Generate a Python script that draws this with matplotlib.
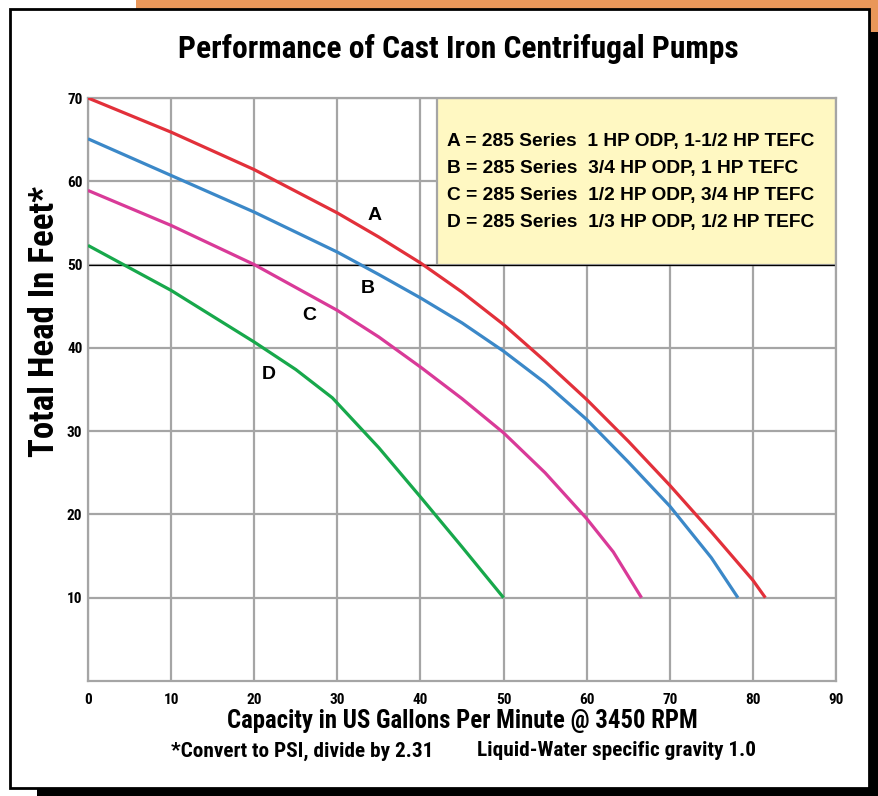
import matplotlib
matplotlib.use("Agg")
import matplotlib.pyplot as plt
from matplotlib import font_manager
from matplotlib.patches import Rectangle

# Curvas (vazão em gpm, altura em pés)
vazao_a = [0, 10, 20, 30, 35, 40, 45, 50, 55, 60, 65, 70, 75, 80, 81.5]
altura_a = [70, 65.9, 61.4, 56.2, 53.3, 50.2, 46.7, 42.8, 38.4, 33.8, 28.8, 23.5, 17.9, 12.1, 10]

vazao_b = [0, 10, 20, 30, 35, 40, 45, 50, 55, 60, 65, 70, 75, 78.2]
altura_b = [65.1, 60.7, 56.3, 51.5, 48.8, 46.0, 43.0, 39.6, 35.8, 31.4, 26.3, 21.0, 14.8, 10]

vazao_c = [0, 10, 20, 30, 35, 40, 45, 50, 55, 60, 63.2, 66.6]
altura_c = [58.9, 54.7, 50.0, 44.5, 41.3, 37.7, 33.9, 29.8, 25.0, 19.5, 15.5, 10]

vazao_d = [0, 10, 20, 25, 29.4, 35, 40, 45, 50]
altura_d = [52.3, 46.9, 40.7, 37.4, 34.0, 28.0, 22.1, 16.1, 10]

rotulos = ["A", "B", "C", "D"]
pos_rotulos = [(34.5, 55.9), (33.6, 47.1), (26.6, 43.9), (21.8, 36.8)]

legenda = [
    "A = 285 Series  1 HP ODP, 1-1/2 HP TEFC",
    "B = 285 Series  3/4 HP ODP, 1 HP TEFC",
    "C = 285 Series  1/2 HP ODP, 3/4 HP TEFC",
    "D = 285 Series  1/3 HP ODP, 1/2 HP TEFC",
]

xticks = [0, 10, 20, 30, 40, 50, 60, 70, 80, 90]
yticks = [10, 20, 30, 40, 50, 60, 70]

cores = ["#e2303a", "#3b88c8", "#d93a98", "#17a84b"]

W, H = 879, 796

# fonte condensada (o original usa Helvetica Condensed)
instaladas = {f.name for f in font_manager.fontManager.ttflist}
estreita = "DejaVu Sans"
for nome in ["Liberation Sans Narrow", "Roboto Condensed", "Archivo Narrow",
             "Encode Sans Condensed"]:
    if nome in instaladas:
        estreita = nome
        break
normal = ["Liberation Sans", "DejaVu Sans"]
cond = dict(family=estreita, weight="bold", stretch="condensed")

fig = plt.figure(figsize=(W / 100, H / 100), dpi=100)


def ret_px(x0, y0, x1, y1, **kw):
    # retângulo em pixels (origem no topo), convertido para fração da figura
    r = Rectangle((x0 / W, 1 - y1 / H), (x1 - x0) / W, (y1 - y0) / H,
                  transform=fig.transFigure, **kw)
    fig.patches.append(r)


#-------Moldura de fundo-------#
ret_px(136, 0, 879, 34, facecolor="#e9975a", edgecolor="none", zorder=0)
ret_px(37, 32, 879, 796, facecolor="black", edgecolor="none", zorder=1)
ret_px(10, 9, 869, 788, facecolor="white", edgecolor="black", linewidth=2, zorder=2)

ax = fig.add_axes([88 / W, 1 - 681 / H, (836 - 88) / W, (681 - 98) / H])
ax.set_zorder(5)
ax.patch.set_alpha(0)

cinza = "#a5a5a5"
ax.set_xlim(0, 90)
ax.set_ylim(0, 70)
ax.set_axisbelow(True)
ax.grid(True, color=cinza, linewidth=1.6)
for s in ax.spines.values():
    s.set_color(cinza)
    s.set_linewidth(1.6)

ax.set_xticks(xticks)
ax.set_yticks(yticks)
ax.tick_params(length=0)
ax.tick_params(axis="y", pad=4)
ax.tick_params(axis="x", pad=9)
for t in ax.get_xticklabels() + ax.get_yticklabels():
    t.set_fontproperties(font_manager.FontProperties(size=11, **cond))
# o "0" do eixo x fica deslocado para a esquerda no original
ax.get_xticklabels()[0].set_x(-2)

# caixa da legenda
ax.add_patch(Rectangle((42, 50), 48, 20, facecolor="#fff8c2", edgecolor=cinza,
                       linewidth=1.6, zorder=2))
ax.axhline(50, color="black", linewidth=0.9, zorder=2.5)

for i, linha in enumerate(legenda):
    ax.text(43.2, 64.8 - i * 3.25, linha, family=normal, fontweight="bold",
            fontsize=13.8, va="center", ha="left", zorder=4)

series = [(vazao_a, altura_a), (vazao_b, altura_b), (vazao_c, altura_c), (vazao_d, altura_d)]
for (vx, vy), cor in zip(series, cores):
    ax.plot(vx, vy, color=cor, linewidth=2.3, zorder=3, solid_capstyle="butt",
            solid_joinstyle="round")

for r, (px, py) in zip(rotulos, pos_rotulos):
    ax.text(px, py, r, family=normal, fontweight="bold", fontsize=14,
            ha="center", va="center", zorder=4)

#-------Textos-------#
fig.text(458 / W, 1 - 49 / H, "Performance of Cast Iron Centrifugal Pumps",
         fontsize=22.7, ha="center", va="center", zorder=6, **cond)
fig.text(45 / W, 1 - 322 / H, "Total Head In Feet*", fontsize=25, rotation=90,
         ha="center", va="center", zorder=6, **cond)
fig.text(462 / W, 1 - 721 / H, "Capacity in US Gallons Per Minute @ 3450 RPM",
         fontsize=17.8, ha="center", va="center", zorder=6, **cond)
fig.text(302 / W, 1 - 751 / H, "*Convert to PSI, divide by 2.31",
         fontsize=15.3, ha="center", va="center", zorder=6, **cond)
fig.text(617 / W, 1 - 751 / H, "Liquid-Water specific gravity 1.0",
         fontsize=15.3, ha="center", va="center", zorder=6, **cond)

fig.savefig("out.png", dpi=100)
